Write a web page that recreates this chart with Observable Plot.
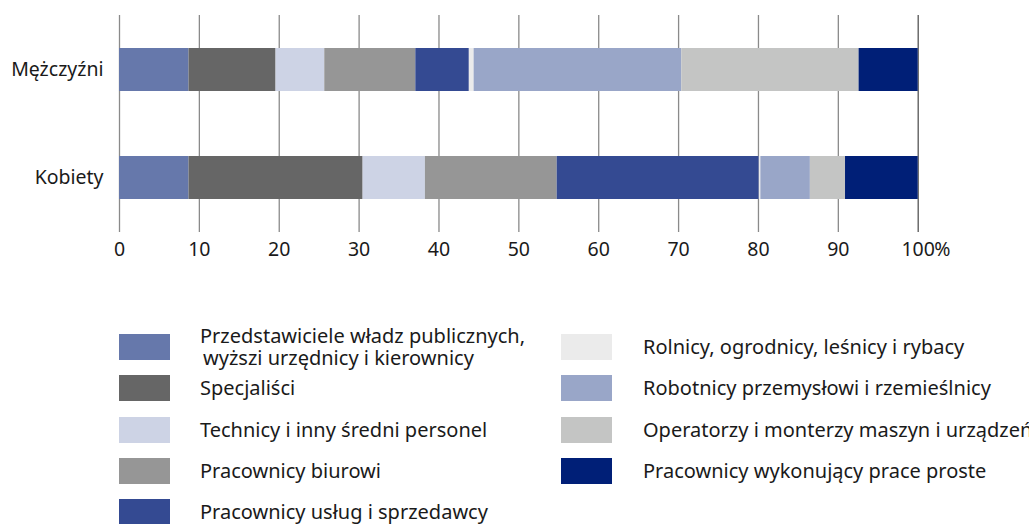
<!DOCTYPE html>
<html>
<head>
<meta charset="utf-8">
<script src="https://cdn.jsdelivr.net/npm/d3@7"></script>
<script src="https://cdn.jsdelivr.net/npm/@observablehq/plot@0.6"></script>
<style>
  html, body { margin: 0; padding: 0; background: #fff; overflow: hidden; }
  body { width: 1029px; height: 524px; position: relative; font-family: "Noto Sans", sans-serif; color: #1a1a1a; }
  #chart { position: absolute; left: 0; top: 0; }
  .col { position: absolute; top: 334px; }
  .item { display: flex; align-items: center; height: 26px; margin-bottom: 15.25px; white-space: nowrap; font-size: 20px; }
  .sw { width: 51px; height: 26px; flex: none; }
  .lab { margin-left: 30px; line-height: 22px; }
  .lab .l2 { padding-left: 3px; }
</style>
</head>
<body>
<div id="chart"></div>
<div id="legend"></div>
<script>
const genders = ["Mężczyźni", "Kobiety"];
const categories = [
  "Przedstawiciele władz publicznych, wyższi urzędnicy i kierownicy",
  "Specjaliści",
  "Technicy i inny średni personel",
  "Pracownicy biurowi",
  "Pracownicy usług i sprzedawcy",
  "Rolnicy, ogrodnicy, leśnicy i rybacy",
  "Robotnicy przemysłowi i rzemieślnicy",
  "Operatorzy i monterzy maszyn i urządzeń",
  "Pracownicy wykonujący prace proste"
];
const colors = ["#6678ab", "#666666", "#cdd3e5", "#969696", "#344a92", "#ebebeb", "#99a6c8", "#c4c5c4", "#001f77"];
const menValues   = [8.7, 10.9, 6.1, 11.4, 6.7, 0.6, 26.0, 22.2, 7.4];
const womenValues = [8.7, 21.8, 7.8, 16.5, 25.3, 0.2, 6.2, 4.4, 9.1];
const xTicks = [0, 10, 20, 30, 40, 50, 60, 70, 80, 90, 100];

const data = [];
categories.forEach((c, i) => {
  data.push({gender: genders[0], category: c, value: menValues[i]});
  data.push({gender: genders[1], category: c, value: womenValues[i]});
});

const chart = Plot.plot({
  width: 1029,
  height: 270,
  marginLeft: 119,
  marginRight: 111.3,
  marginTop: 15,
  marginBottom: 38,
  style: {fontFamily: "Noto Sans", fontSize: "19.5px", color: "#1a1a1a", background: "transparent"},
  x: {domain: [0, 100], axis: null},
  y: {domain: genders, paddingInner: 0.6, paddingOuter: 0.3, axis: null},
  color: {domain: categories, range: colors},
  marks: [
    Plot.ruleX(xTicks, {x: d => d, stroke: d => d === 100 ? "#555555" : "#8a8a8a", strokeWidth: 1.3}),
    Plot.barX(data, {x: "value", y: "gender", fill: "category", order: categories}),
    Plot.axisY({tickSize: 0, tickPadding: 16, fontSize: 19.5, label: null}),
    Plot.axisX(xTicks, {tickSize: 0, tickPadding: 10, fontSize: 19.5, label: null, tickFormat: d => String(d)}),
    Plot.text([100], {x: d => d, text: () => "%", frameAnchor: "bottom", textAnchor: "start", lineAnchor: "top", dy: 10, dx: 16, fontSize: 19.5})
  ]
});
document.getElementById("chart").appendChild(chart);

// Legend
const legendLabels = [
  "Przedstawiciele władz publicznych,<br><span class='l2'>wyższi urzędnicy i kierownicy</span>",
  ...categories.slice(1)
];
const leftIdx = [0, 1, 2, 3, 4];
const rightIdx = [5, 6, 7, 8];
function makeCol(idxs, left, gap) {
  const col = document.createElement("div");
  col.className = "col";
  col.style.left = left + "px";
  idxs.forEach(i => {
    const it = document.createElement("div");
    it.className = "item";
    it.innerHTML = `<div class="sw" style="background:${colors[i]}"></div><div class="lab" style="margin-left:${gap}px">${legendLabels[i]}</div>`;
    col.appendChild(it);
  });
  document.getElementById("legend").appendChild(col);
}
makeCol(leftIdx, 119, 30);
makeCol(rightIdx, 561, 31);
</script>
</body>
</html>
